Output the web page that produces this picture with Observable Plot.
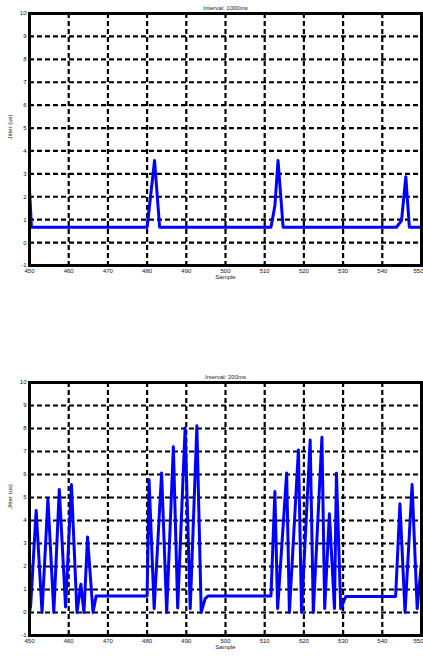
<!DOCTYPE html>
<html>
<head>
<meta charset="utf-8">
<script src="https://cdn.jsdelivr.net/npm/d3@7"></script>
<script src="https://cdn.jsdelivr.net/npm/@observablehq/plot@0.6"></script>
<style>
  html, body { margin: 0; padding: 0; background: #fff; }
  #wrap { width: 423px; height: 656px; position: relative; overflow: hidden; }
  #wrap svg { display: block; }
</style>
</head>
<body>
<div id="wrap"></div>
<script>
// ---- data ----
const titles = ["Interval: 1000ms", "Interval: 200ms"];
const xLabel = "Sample";
const yLabel = "Jitter (us)";
const xTicks = [450, 460, 470, 480, 490, 500, 510, 520, 530, 540];
const xTickLast = [550];
const yTicks = [-1, 0, 1, 2, 3, 4, 5, 6, 7, 8, 9, 10];
const xGrid = [460, 470, 480, 490, 500, 510, 520, 530, 540];
const yGrid = [0, 1, 2, 3, 4, 5, 6, 7, 8, 9];

const topX = [450, 450.5, 480.0, 481.9, 483.2, 511.6, 512.6, 513.4, 514.7, 543.6, 544.9, 546.0, 546.9, 550];
const topY = [2.35, 0.67, 0.67, 3.58, 0.67, 0.67, 1.61, 3.58, 0.67, 0.67, 0.96, 2.87, 0.67, 0.67];

const botX = [450, 450.3, 451.7, 453.2, 454.7, 456.2, 457.6, 459.2, 460.7, 462.1,
              463.1, 463.9, 464.8, 466.2, 467.0, 480.0, 480.5, 481.8, 483.7, 485.0,
              486.7, 487.8, 489.7, 491.0, 492.7, 493.8, 494.8, 495.6, 511.6, 512.6,
              513.3, 515.6, 516.3, 518.6, 519.4, 521.6, 522.4, 524.6, 525.3, 526.5,
              527.8, 528.3, 529.4, 530.7, 543.4, 544.5, 545.8, 547.6, 548.9, 550];
const botY = [0, 0.3, 4.44, 0, 4.94, 0, 5.35, 0.24, 5.56, 0,
              1.23, 0, 3.28, 0, 0.72, 0.72, 5.77, 0.17, 6.07, 0,
              7.21, 0.2, 8.02, 0.17, 8.12, 0, 0.6, 0.72, 0.72, 5.26,
              0.17, 6.07, 0, 7.07, 0, 7.5, 0, 7.62, 0.17, 4.29,
              0.17, 6.05, 0.17, 0.7, 0.7, 4.73, 0, 5.56, 0.17, 2.2];

// ---- chart ----
function chart(xs, ys, title, height, marginTop, marginBottom) {
  const data = xs.map((x, i) => ({x, y: ys[i]}));
  const grid = {stroke: "#000", strokeWidth: 2.2, strokeDasharray: "5,3", strokeOpacity: 1};
  return Plot.plot({
    width: 423,
    height,
    marginLeft: 29,
    marginRight: 2,
    marginTop,
    marginBottom,
    style: {fontFamily: "'Liberation Sans', Arial, sans-serif", fontSize: "6px", color: "#000", background: "#fff"},
    x: {domain: [450, 550], label: null},
    y: {domain: [-1, 10], label: null},
    marks: [
      Plot.ruleY(yGrid, grid),
      Plot.ruleX(xGrid, grid),
      Plot.line(data, {x: "x", y: "y", stroke: "#0000ff", strokeWidth: 3, clip: true}),
      Plot.frame({stroke: "#000", strokeWidth: 3}),
      Plot.axisY({ticks: yTicks, tickFormat: d => String(d), tickSize: 0, tickPadding: 3, label: null, fill: "#111"}),
      Plot.axisX({ticks: xTicks, tickFormat: d => String(d), tickSize: 0, tickPadding: 3, label: null, fill: "#111"}),
      Plot.axisX({ticks: xTickLast, tickFormat: d => String(d), tickSize: 0, tickPadding: 3, label: null, textAnchor: "end", dx: 2, fill: "#111"}),
      Plot.text([title], {frameAnchor: "top", dy: -8, fontSize: 6, fill: "#222"}),
      Plot.text([xLabel], {frameAnchor: "bottom", dy: 13, fontSize: 6, fill: "#222"}),
      Plot.text([yLabel], {frameAnchor: "left", dx: -19, rotate: -90, fontSize: 6, fill: "#222"})
    ]
  });
}

const wrap = document.getElementById("wrap");
wrap.appendChild(chart(topX, topY, titles[0], 330, 13, 65));
wrap.appendChild(chart(botX, botY, titles[1], 326, 52, 21));
</script>
</body>
</html>
